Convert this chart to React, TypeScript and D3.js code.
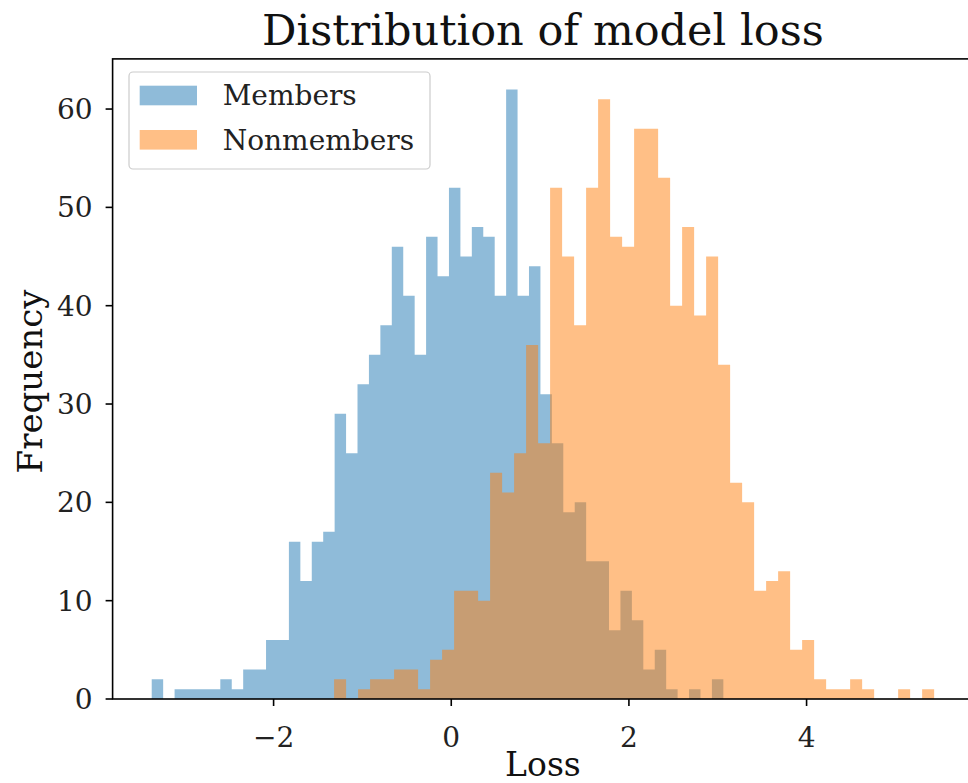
import * as d3 from "d3";
import React from "react";

// histogram counts, 50 bins each
const memberCounts = [
  2, 0, 1, 1, 1, 1, 2, 1, 3, 3,
  6, 6, 16, 12, 16, 17, 29, 25, 32, 35,
  38, 46, 41, 35, 47, 43, 52, 45, 48, 47,
  41, 62, 41, 44, 31, 26, 19, 20, 14, 14,
  7, 11, 8, 3, 5, 1, 0, 1, 0, 2,
];
const nonmemberCounts = [
  2, 0, 1, 2, 2, 3, 3, 1, 4, 5,
  11, 11, 10, 23, 21, 25, 36, 26, 52, 45,
  38, 52, 61, 47, 46, 58, 58, 53, 40, 48,
  39, 45, 34, 22, 20, 11, 12, 13, 5, 6,
  2, 1, 1, 2, 1, 0, 0, 1, 0, 1,
];
// min / max loss of each sample (bin range)
const memberRange = [-3.372, 3.063];
const nonmemberRange = [-1.319, 5.436];

const seriesNames = ["Members", "Nonmembers"];
const colors = ["#1f77b4", "#ff7f0e"];
const xTicks = [-2, 0, 2, 4];
const yTicks = [0, 10, 20, 30, 40, 50, 60];

const width = 968;
const height = 783;
const font = "DejaVu Serif";

// same as numpy: equal-width bin edges between min and max
const edgesFor = (range: number[], n: number) =>
  d3.range(n + 1).map((i) => range[0] + ((range[1] - range[0]) * i) / n);

const App = () => {
  const lo = Math.min(memberRange[0], nonmemberRange[0]);
  const hi = Math.max(memberRange[1], nonmemberRange[1]);
  const pad = (hi - lo) * 0.05;
  const left = 112.6;
  const pxPerUnit = 88.83;

  const xScale = d3
    .scaleLinear()
    .domain([lo - pad, hi + pad])
    .range([left, left + (hi - lo + 2 * pad) * pxPerUnit]);

  const yMax = (d3.max([...memberCounts, ...nonmemberCounts]) as number) * 1.05;
  const yScale = d3.scaleLinear().domain([0, yMax]).range([699, 58.9]);

  const series = [
    { counts: memberCounts, edges: edgesFor(memberRange, memberCounts.length) },
    { counts: nonmemberCounts, edges: edgesFor(nonmemberRange, nonmemberCounts.length) },
  ];

  const area = d3
    .area<[number, number]>()
    .x((d) => xScale(d[0]))
    .y0(yScale(0))
    .y1((d) => yScale(d[1]))
    .curve(d3.curveStepAfter);

  const paths = series.map((s) => {
    const pts: [number, number][] = s.counts.map((c, i) => [s.edges[i], c]);
    pts.push([s.edges[s.edges.length - 1], s.counts[s.counts.length - 1]]);
    return area(pts);
  });

  const x0 = xScale.range()[0];
  const x1 = xScale.range()[1];
  const yTop = yScale(yMax);
  const yBot = yScale(0);

  return (
    <svg
      width={width}
      height={height}
      style={{ position: "absolute", left: 0, top: 0, background: "#fff" }}
      fontFamily={font}
    >
      {paths.map((d, i) => (
        <path key={i} d={d || ""} fill={colors[i]} fillOpacity={0.5} />
      ))}

      {/* spines */}
      <rect x={x0} y={yTop} width={x1 - x0} height={yBot - yTop} fill="none" stroke="#000" strokeWidth={1.6} />

      {/* y axis */}
      {yTicks.map((t) => (
        <g key={t}>
          <line x1={x0 - 7} x2={x0} y1={yScale(t)} y2={yScale(t)} stroke="#000" strokeWidth={1.6} />
          <text x={x0 - 20} y={yScale(t)} dy="0.36em" textAnchor="end" fontSize={28} fill="#222">
            {t}
          </text>
        </g>
      ))}

      {/* x axis */}
      {xTicks.map((t) => (
        <g key={t}>
          <line x1={xScale(t)} x2={xScale(t)} y1={yBot} y2={yBot + 7} stroke="#000" strokeWidth={1.6} />
          <text x={xScale(t)} y={747} textAnchor="middle" fontSize={28} fill="#222">
            {t < 0 ? "\u2212" + Math.abs(t) : t}
          </text>
        </g>
      ))}

      <text x={(x0 + x1) / 2} y={776} textAnchor="middle" fontSize={33} fill="#111">
        Loss
      </text>
      <text
        transform={`translate(41.5, 381.5) rotate(-90)`}
        textAnchor="middle"
        fontSize={34}
        fill="#111"
      >
        Frequency
      </text>
      <text x={(x0 + x1) / 2} y={45} textAnchor="middle" fontSize={43} fill="#111">
        Distribution of model loss
      </text>

      {/* legend */}
      <rect x={129} y={72} width={301} height={97} rx={4} fill="#fff" fillOpacity={0.8} stroke="#ccc" strokeWidth={1.2} />
      {seriesNames.map((name, i) => (
        <g key={name}>
          <rect x={139.7} y={85.7 + i * 44.3} width={57.3} height={19.6} fill={colors[i]} fillOpacity={0.5} />
          <text x={222.7} y={105 + i * 44.5} fontSize={28} fill="#222">
            {name}
          </text>
        </g>
      ))}
    </svg>
  );
};

export default App;
